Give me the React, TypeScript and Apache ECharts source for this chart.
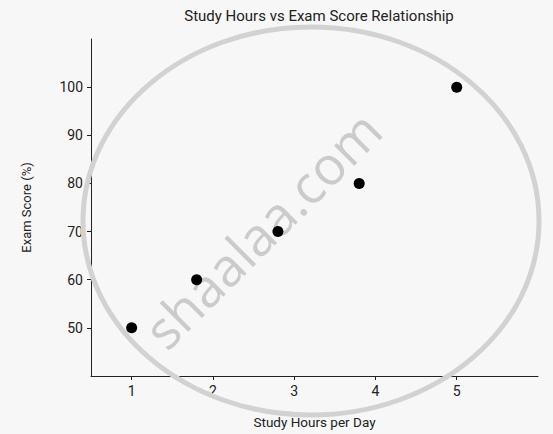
import React, { useEffect, useRef } from "react";
import * as echarts from "echarts";

const studyHours = [1, 1.8, 2.8, 3.8, 5];
const examScores = [50, 60, 70, 80, 100];
const xTicks = [1, 2, 3, 4, 5];
const yTicks = [50, 60, 70, 80, 90, 100];

export default function App() {
  const ref = useRef<HTMLDivElement>(null);
  useEffect(() => {
    document.body.style.margin = "0";
    if (!ref.current) return;
    const chart = echarts.init(ref.current, undefined, { renderer: "svg" });
    const font = "Roboto, 'Noto Sans', sans-serif";
    chart.setOption({
      animation: false,
      backgroundColor: "#f7f7f7",
      title: {
        text: "Study Hours vs Exam Score Relationship",
        left: 314,
        textAlign: "center",
        top: 3,
        textStyle: { fontFamily: font, fontSize: 15, fontWeight: "normal", color: "#222222" },
      },
      grid: { left: 91, right: 15, top: 39, bottom: 56 },
      xAxis: {
        type: "value",
        min: 0.5,
        max: 6,
        name: "Study Hours per Day",
        nameLocation: "middle",
        nameGap: 39,
        nameTextStyle: { fontFamily: font, fontSize: 13.5, color: "#222222" },
        splitLine: { show: false },
        axisLine: { show: true, lineStyle: { color: "#222222", width: 1 } },
        axisTick: { show: true, customValues: xTicks, length: 4, lineStyle: { color: "#222222" } },
        axisLabel: { customValues: xTicks, fontFamily: font, fontSize: 14, color: "#222222", margin: 8 },
      },
      yAxis: {
        type: "value",
        min: 40,
        max: 110,
        name: "Exam Score (%)",
        nameLocation: "middle",
        nameGap: 58,
        nameTextStyle: { fontFamily: font, fontSize: 13, color: "#222222" },
        splitLine: { show: false },
        axisLine: { show: true, lineStyle: { color: "#222222", width: 1 } },
        axisTick: { show: true, customValues: yTicks, length: 4, lineStyle: { color: "#222222" } },
        axisLabel: { customValues: yTicks, fontFamily: font, fontSize: 14, color: "#222222", margin: 8 },
      },
      graphic: [
        {
          type: "ellipse",
          shape: { cx: 311, cy: 221, rx: 228, ry: 194 },
          style: { fill: "none", stroke: "#d2d2d2", lineWidth: 5 },
          silent: true,
          z: 10,
        },
        {
          type: "text",
          x: 262,
          y: 229,
          rotation: Math.PI / 4,
          style: {
            text: "shaalaa.com",
            fontFamily: "'Open Sans', sans-serif",
            fontSize: 53,
            fontWeight: 500,
            fill: "#cbcbcb",
            align: "center",
            verticalAlign: "middle",
          },
          silent: true,
          z: 10,
        },
      ],
      series: [
        {
          type: "scatter",
          data: studyHours.map((h, i) => [h, examScores[i]]),
          symbolSize: 11,
          itemStyle: { color: "#000", opacity: 1 },
          z: 20,
        },
      ],
    });
    return () => chart.dispose();
  }, []);
  return <div ref={ref} style={{ width: 553, height: 434 }} />;
}
